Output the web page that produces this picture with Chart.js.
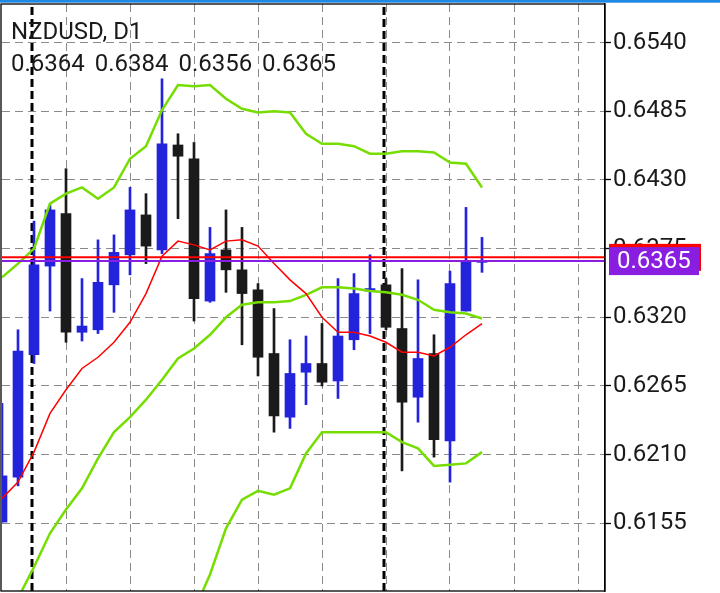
<!DOCTYPE html>
<html>
<head>
<meta charset="utf-8">
<title>NZDUSD, D1</title>
<script src="https://cdn.jsdelivr.net/npm/chart.js@4.4.0/dist/chart.umd.min.js"></script>
<style>
  html, body { margin: 0; padding: 0; background: #fff; }
  #wrap { position: relative; width: 720px; height: 593px; }
</style>
</head>
<body>
<div id="wrap"><canvas id="chart"></canvas></div>
<script>
// header texts
const SYMBOL = 'NZDUSD, D1';
const LAST_OHLC = ['0.6364', '0.6384', '0.6356', '0.6365'];

// daily candles, oldest first
const OPEN  = [0.6156, 0.6192, 0.6290, 0.6361, 0.6403, 0.6308, 0.6310, 0.6346, 0.6370, 0.6402, 0.6374, 0.6458, 0.6447, 0.6333, 0.6374, 0.6358, 0.6342, 0.6291, 0.6240, 0.6276, 0.6283, 0.6269, 0.6302, 0.6341, 0.6346, 0.6311, 0.6256, 0.6291, 0.6221, 0.6325, 0.6364];
const HIGH  = [0.6251, 0.6310, 0.6397, 0.6410, 0.6439, 0.6351, 0.6382, 0.6386, 0.6424, 0.6419, 0.6511, 0.6467, 0.6460, 0.6392, 0.6406, 0.6392, 0.6347, 0.6327, 0.6302, 0.6305, 0.6315, 0.6351, 0.6355, 0.6370, 0.6351, 0.6359, 0.6350, 0.6306, 0.6357, 0.6408, 0.6384];
const LOW   = [0.6156, 0.6185, 0.6283, 0.6325, 0.6300, 0.6301, 0.6307, 0.6324, 0.6354, 0.6363, 0.6371, 0.6399, 0.6317, 0.6332, 0.6340, 0.6298, 0.6273, 0.6228, 0.6231, 0.6250, 0.6265, 0.6255, 0.6294, 0.6307, 0.6310, 0.6197, 0.6236, 0.6208, 0.6188, 0.6325, 0.6356];
const CLOSE = [0.6193, 0.6293, 0.6362, 0.6406, 0.6308, 0.6313, 0.6348, 0.6372, 0.6406, 0.6377, 0.6459, 0.6449, 0.6335, 0.6371, 0.6358, 0.6339, 0.6288, 0.6241, 0.6275, 0.6283, 0.6268, 0.6305, 0.6339, 0.6343, 0.6312, 0.6252, 0.6287, 0.6222, 0.6347, 0.6364, 0.6365];

// indicators
const BB_UPPER  = [0.6352, 0.6363, 0.6375, 0.6411, 0.6419, 0.6424, 0.6415, 0.6424, 0.6447, 0.6457, 0.6486, 0.6506, 0.6505, 0.6506, 0.6495, 0.6487, 0.6484, 0.6485, 0.6484, 0.6467, 0.6459, 0.6459, 0.6457, 0.6451, 0.6451, 0.6453, 0.6453, 0.6452, 0.6444, 0.6443, 0.6424];
const BB_MIDDLE = [0.6070, 0.6095, 0.6120, 0.6147, 0.6166, 0.6183, 0.6207, 0.6228, 0.6240, 0.6254, 0.6270, 0.6287, 0.6295, 0.6306, 0.6320, 0.6330, 0.6332, 0.6332, 0.6333, 0.6338, 0.6344, 0.6344, 0.6343, 0.6341, 0.6340, 0.6338, 0.6334, 0.6326, 0.6324, 0.6323, 0.6319];
const BB_LOWER  = [0.5788, 0.5827, 0.5865, 0.5883, 0.5913, 0.5942, 0.5999, 0.6032, 0.6033, 0.6051, 0.6054, 0.6068, 0.6085, 0.6114, 0.6151, 0.6174, 0.6181, 0.6178, 0.6183, 0.6211, 0.6228, 0.6228, 0.6228, 0.6228, 0.6228, 0.6220, 0.6215, 0.6201, 0.6202, 0.6203, 0.6212];
const MA_RED    = [0.6175, 0.6188, 0.6212, 0.6243, 0.6262, 0.6279, 0.6288, 0.6300, 0.6316, 0.6339, 0.6369, 0.6381, 0.6378, 0.6374, 0.6381, 0.6382, 0.6377, 0.6363, 0.6350, 0.6339, 0.6320, 0.6308, 0.6308, 0.6305, 0.6300, 0.6292, 0.6292, 0.6289, 0.6296, 0.6306, 0.6315];

const BID = 0.6365;
const ASK = 0.6368;

// axes
const Y_TICKS = [0.6155, 0.6210, 0.6265, 0.6320, 0.6375, 0.6430, 0.6485, 0.6540];
const Y_MIN = 0.61008;
const Y_MAX = 0.65709;
const X_MAX = 37.6875;           // bar slots visible
const GRID_BARS = [4, 8, 12, 16, 20, 24, 28, 32, 36];
const SEPARATORS = [1.875, 23.875];

const BULL = '#2323dc';
const BEAR = '#1a1a1a';
const GREEN = '#76dd00';

const idx = CLOSE.map((_, i) => i);
const candleColor = idx.map(i => CLOSE[i] >= OPEN[i] ? BULL : BEAR);
const series = arr => idx.map(i => ({ x: i, y: arr[i] }));
const hline = v => [{ x: 0, y: v }, { x: X_MAX, y: v }];

const lineBase = { type: 'line', pointRadius: 0, tension: 0, fill: false };

const overlay = {
  id: 'overlay',
  afterDraw(chart) {
    const { ctx, chartArea: ca, scales: { y } } = chart;
    ctx.save();
    ctx.fillStyle = '#1e88e5';
    ctx.fillRect(0, 0, chart.width, 2.7);
    ctx.strokeStyle = '#000';
    ctx.lineWidth = 1.3;
    ctx.strokeRect(ca.left - 1, ca.top, ca.right - ca.left + 1, ca.bottom - ca.top);

    ctx.font = '24px Roboto';
    ctx.fillStyle = '#1a1a1a';
    ctx.textBaseline = 'alphabetic';
    ctx.fillText(SYMBOL, ca.left + 9, ca.top + 35.3);
    LAST_OHLC.forEach((t, i) => ctx.fillText(t, ca.left + 9 + i * 83.7, ca.top + 67));

    const yAsk = y.getPixelForValue(ASK);
    const yBid = y.getPixelForValue(BID);
    ctx.fillStyle = '#ff0000';
    ctx.fillRect(ca.right + 4, yAsk - 13.5, 92, 27);
    ctx.fillStyle = '#8a1ee0';
    ctx.fillRect(ca.right + 4, yBid - 14, 90, 28);
    ctx.fillStyle = '#fff';
    ctx.textBaseline = 'middle';
    ctx.fillText(BID.toFixed(4), ca.right + 12, yBid + 1);
    ctx.restore();
  }
};

new Chart(document.getElementById('chart'), {
  type: 'line',
  data: {
    datasets: [
      { ...lineBase, label: 'Ask', data: hline(ASK), borderColor: '#ff0000', borderWidth: 2, order: 0 },
      { ...lineBase, label: 'Bid', data: hline(BID), borderColor: '#8a1ee0', borderWidth: 2, order: 0 },
      { ...lineBase, label: 'MA', data: series(MA_RED), borderColor: '#ff0000', borderWidth: 1.5, order: 1 },
      { ...lineBase, label: 'BB upper', data: series(BB_UPPER), borderColor: GREEN, borderWidth: 2.5, order: 2 },
      { ...lineBase, label: 'BB middle', data: series(BB_MIDDLE), borderColor: GREEN, borderWidth: 2.5, order: 2 },
      { ...lineBase, label: 'BB lower', data: series(BB_LOWER), borderColor: GREEN, borderWidth: 2.5, order: 2 },
      { type: 'bar', label: 'Body', data: idx.map(i => ({ x: i, y: [OPEN[i], CLOSE[i]] })),
        backgroundColor: candleColor, barThickness: 10, grouped: false, order: 3 },
      { type: 'bar', label: 'Wick', data: idx.map(i => ({ x: i, y: [LOW[i], HIGH[i]] })),
        backgroundColor: candleColor, barThickness: 2, grouped: false, order: 4 },
      ...SEPARATORS.map(s => ({ ...lineBase, label: 'Separator', data: [{ x: s, y: Y_MIN }, { x: s, y: Y_MAX }],
        borderColor: '#000', borderWidth: 3, borderDash: [8, 4], order: 5 }))
    ]
  },
  options: {
    responsive: true,
    maintainAspectRatio: false,
    animation: false,
    layout: { padding: { top: 4, bottom: 2, left: 2, right: 0 } },
    plugins: { legend: { display: false }, tooltip: { enabled: false } },
    scales: {
      x: {
        type: 'linear', min: 0, max: X_MAX, offset: false,
        afterBuildTicks: s => { s.ticks = GRID_BARS.map(v => ({ value: v })); },
        afterFit: s => { s.height = 0; s.paddingLeft = 0; s.paddingRight = 0; },
        ticks: { display: false },
        grid: { color: '#8a8a8a', lineWidth: 1, drawTicks: false, offset: false },
        border: { display: false, dash: [8, 5] }
      },
      y: {
        position: 'right', min: Y_MIN, max: Y_MAX,
        afterBuildTicks: s => { s.ticks = Y_TICKS.map(v => ({ value: v })); },
        afterFit: s => { s.width = 115; s.paddingTop = 0; s.paddingBottom = 0; },
        ticks: { font: { family: 'Roboto', size: 24 }, color: '#1a1a1a', padding: 2, callback: v => v.toFixed(4) },
        grid: { color: '#8a8a8a', lineWidth: 1, tickColor: '#000', tickLength: 6, tickWidth: 1.3 },
        border: { display: true, color: '#000', width: 1.3, dash: [8, 5] }
      }
    }
  },
  plugins: [overlay]
});
</script>
</body>
</html>
